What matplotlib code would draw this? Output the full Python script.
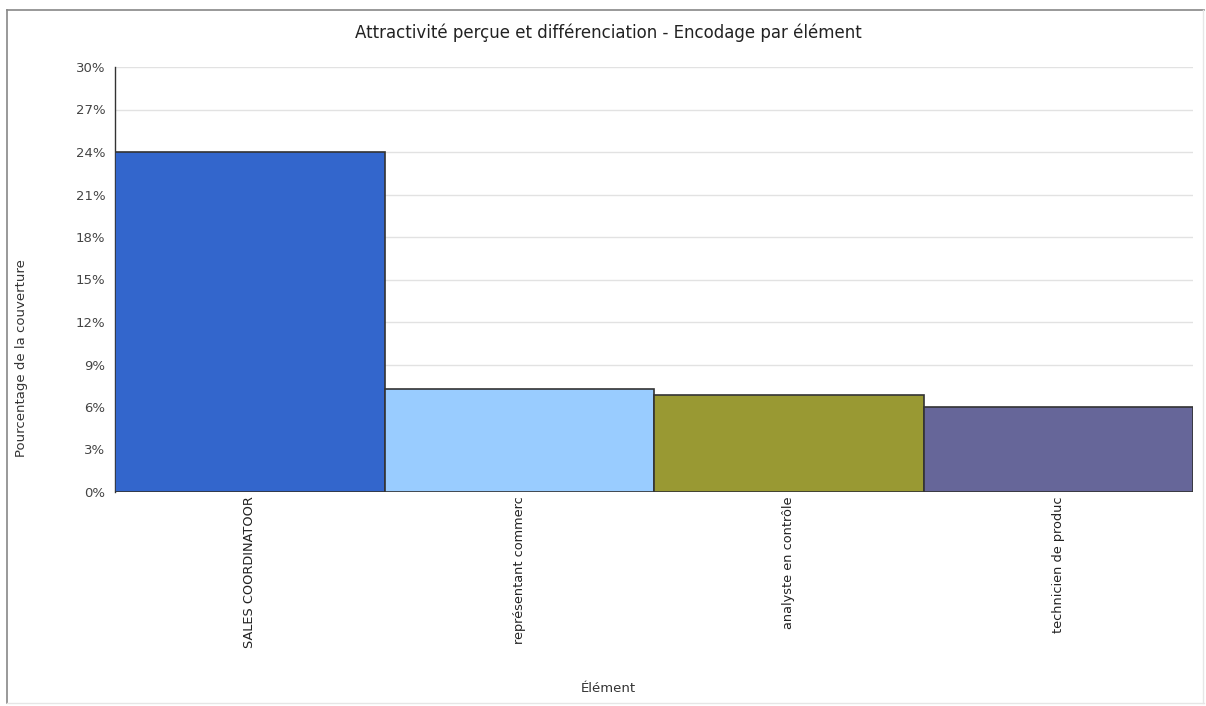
import matplotlib
matplotlib.use('Agg')
import matplotlib.pyplot as plt
from matplotlib.ticker import FuncFormatter
from matplotlib.lines import Line2D

plt.rcParams['font.family'] = ['DejaVu Sans']

# données du graphique
elements = ['SALES COORDINATOOR', 'représentant commerc', 'analyste en contrôle', 'technicien de produc']
couverture = [24.0, 7.3, 6.85, 6.0]
couleurs = ['#3366CC', '#99CCFF', '#999933', '#666699']
yticks = [0, 3, 6, 9, 12, 15, 18, 21, 24, 27, 30]

fig = plt.figure(figsize=(12.06, 7.06), dpi=100)
ax = fig.add_axes([115 / 1206, 1 - 492 / 706, 1078 / 1206, 425 / 706])

x = list(range(len(elements)))
ax.bar(x, couverture, width=1.0, color=couleurs, edgecolor='#333333', linewidth=1.2, zorder=3)

ax.set_xlim(-0.5, len(elements) - 0.5)
ax.set_ylim(0, 30)
ax.set_yticks(yticks)
ax.yaxis.set_major_formatter(FuncFormatter(lambda v, p: f'{v:.0f}%'))
ax.set_xticks(x)
ax.set_xticklabels(elements, rotation=90, fontsize=9.3, color='#222222', va='top')
ax.tick_params(axis='y', length=0, labelsize=9.5, labelcolor='#444444', pad=7)
ax.tick_params(axis='x', length=0, pad=3)
ax.grid(axis='y', color='#e2e2e2', linewidth=1.0, zorder=0)

for s in ['top', 'right', 'bottom']:
    ax.spines[s].set_visible(False)
ax.spines['left'].set_color('#333333')
ax.spines['left'].set_linewidth(1.0)

fig.text(608 / 1206, 1 - 33 / 706, 'Attractivité perçue et différenciation - Encodage par élément',
         ha='center', va='center', fontsize=12, color='#222222')
fig.text(22 / 1206, 1 - 358 / 706, 'Pourcentage de la couverture', rotation=90,
         ha='center', va='center', fontsize=9.5, color='#333333')
fig.text(608 / 1206, 1 - 689 / 706, 'Élément', ha='center', va='center', fontsize=9.5, color='#333333')

# cadre autour du graphique
fig.add_artist(Line2D([7 / 1206, 7 / 1206], [1 - 10 / 706, 1 - 703 / 706], transform=fig.transFigure,
                      color='#888888', linewidth=1.2))
fig.add_artist(Line2D([7 / 1206, 1204 / 1206], [1 - 10 / 706, 1 - 10 / 706], transform=fig.transFigure,
                      color='#888888', linewidth=1.2))
fig.add_artist(Line2D([1203 / 1206, 1203 / 1206], [1 - 10 / 706, 1 - 703 / 706], transform=fig.transFigure,
                      color='#e6e6e6', linewidth=1.0))
fig.add_artist(Line2D([7 / 1206, 1204 / 1206], [1 - 703 / 706, 1 - 703 / 706], transform=fig.transFigure,
                      color='#e6e6e6', linewidth=1.0))

fig.savefig('out.png', dpi=100)
